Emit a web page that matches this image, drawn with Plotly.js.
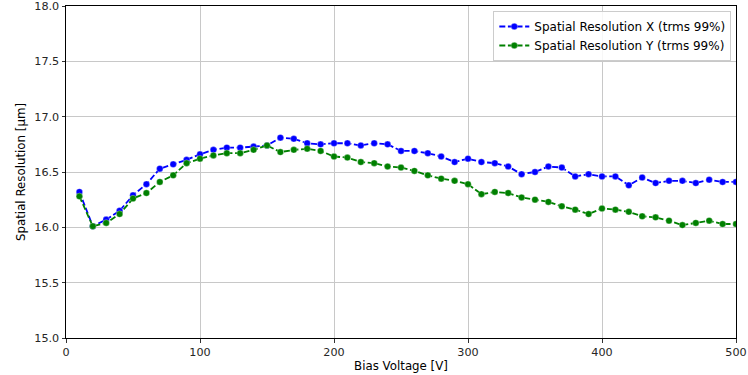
<!DOCTYPE html>
<html>
<head>
<meta charset="utf-8">
<script src="https://cdn.plot.ly/plotly-3.0.1.min.js"></script>
<style>html,body{margin:0;padding:0;background:#fff}#chart{width:748px;height:375px}</style>
</head>
<body>
<div id="chart"></div>
<script>
const biasVoltage = [10,20,30,40,50,60,70,80,90,100,110,120,130,140,150,160,170,180,190,200,210,220,230,240,250,260,270,280,290,300,310,320,330,340,350,360,370,380,390,400,410,420,430,440,450,460,470,480,490,500];
const resX = [16.32,16.01,16.07,16.15,16.29,16.39,16.53,16.57,16.61,16.66,16.70,16.72,16.72,16.73,16.74,16.81,16.80,16.76,16.75,16.76,16.76,16.74,16.76,16.75,16.69,16.69,16.67,16.64,16.59,16.62,16.59,16.58,16.55,16.48,16.50,16.55,16.54,16.46,16.48,16.46,16.46,16.38,16.45,16.40,16.42,16.42,16.40,16.43,16.41,16.41];
const resY = [16.28,16.01,16.04,16.12,16.26,16.31,16.41,16.47,16.58,16.62,16.65,16.67,16.67,16.70,16.74,16.68,16.70,16.71,16.69,16.64,16.63,16.59,16.58,16.55,16.54,16.51,16.47,16.44,16.42,16.39,16.30,16.32,16.31,16.27,16.25,16.23,16.19,16.16,16.12,16.17,16.16,16.14,16.10,16.09,16.06,16.02,16.04,16.06,16.03,16.03];
const seriesNames = ["Spatial Resolution X (trms 99%)", "Spatial Resolution Y (trms 99%)"];
const xTicks = [0,100,200,300,400,500];
const yTicks = [15.0,15.5,16.0,16.5,17.0,17.5,18.0];

const fam = "DejaVu Sans, sans-serif";
const font = {family: fam, size: 11.2, color: "#262626"};
function trace(y, name, color) {
  return {
    x: biasVoltage, y: y, name: name, type: "scatter", mode: "lines+markers",
    line: {color: color, width: 1.8, dash: "6px,2.6px"},
    marker: {color: color, size: 6.5, line: {color: "rgba(255,255,255,0.6)", width: 0.5}}
  };
}
const data = [trace(resX, seriesNames[0], "#0000ff"), trace(resY, seriesNames[1], "#008000")];
const axisCommon = {
  showline: true, linecolor: "#000", linewidth: 1, mirror: true,
  ticks: "outside", ticklen: 3.5, tickwidth: 0.8, tickcolor: "#000",
  showgrid: true, gridcolor: "#c8c8c8", gridwidth: 1, zeroline: false,
  tickfont: font, ticklabeloverflow: "allow"
};
const layout = {
  width: 748, height: 375,
  margin: {l: 66, r: 12, t: 6, b: 37},
  paper_bgcolor: "#fff", plot_bgcolor: "#fff",
  font: font,
  showlegend: true,
  legend: {x: 0.993, y: 0.985, xanchor: "right", yanchor: "top",
    bgcolor: "rgba(255,255,255,0.85)", bordercolor: "#cccccc", borderwidth: 1,
    font: {family: fam, size: 12, color: "#000"},
    tracegroupgap: 0, itemwidth: 30},
  xaxis: Object.assign({}, axisCommon, {
    range: [0, 500], tickvals: xTicks, ticktext: xTicks.map(String),
    title: {text: "Bias Voltage [V]", font: {family: fam, size: 11.8, color: "#000"}, standoff: 3}
  }),
  yaxis: Object.assign({}, axisCommon, {
    range: [15, 18], tickvals: yTicks, ticktext: yTicks.map(v => v.toFixed(1)),
    title: {text: "Spatial Resolution [μm]", font: {family: fam, size: 11.8, color: "#000"}, standoff: 6}
  })
};
Plotly.newPlot("chart", data, layout, {displayModeBar: false, staticPlot: true});
</script>
</body>
</html>
